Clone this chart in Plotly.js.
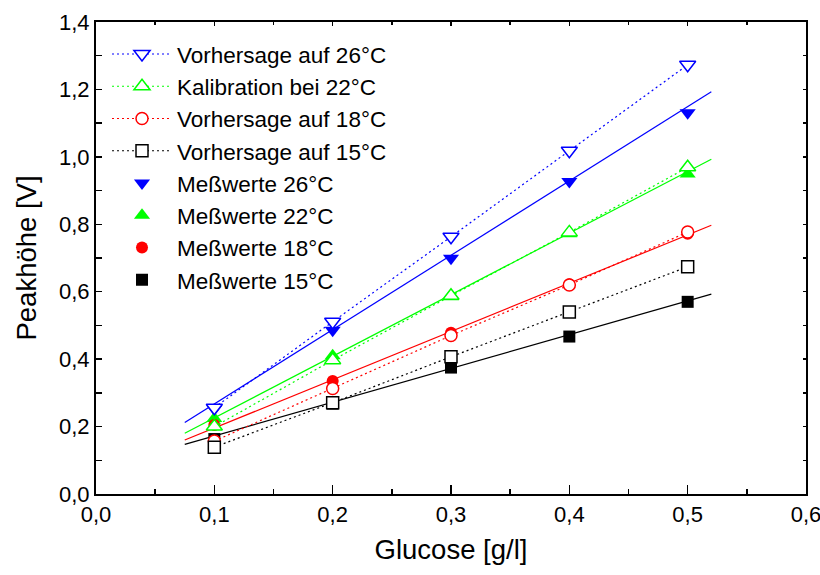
<!DOCTYPE html>
<html><head><meta charset="utf-8">
<script src="https://cdn.plot.ly/plotly-3.0.1.min.js"></script>
<style>html,body{margin:0;padding:0;background:#fff}#chart{width:820px;height:575px}</style>
</head><body><div id="chart"></div>
<script>
const glucose = [0.1, 0.2, 0.3, 0.4, 0.5];
const pred26 = [0.256, 0.511, 0.763, 1.018, 1.273];
const cal22  = [0.200, 0.397, 0.588, 0.776, 0.969];
const pred18 = [0.157, 0.313, 0.470, 0.620, 0.777];
const pred15 = [0.139, 0.271, 0.407, 0.540, 0.674];
const meas26 = [0.252, 0.486, 0.699, 0.927, 1.131];
const meas22 = [0.224, 0.410, 0.585, 0.772, 0.949];
const meas18 = [0.205, 0.335, 0.478, 0.622, 0.772];
const meas15 = [0.163, 0.268, 0.375, 0.467, 0.570];
const fitX   = [0.075, 0.52];
const fit26  = [0.212, 1.193];
const fit22  = [0.180, 0.993];
const fit18  = [0.160, 0.797];
const fit15  = [0.147, 0.593];
const xTicks = [0, 0.1, 0.2, 0.3, 0.4, 0.5, 0.6];
const yTicks = [0, 0.2, 0.4, 0.6, 0.8, 1.0, 1.2, 1.4];

const BLUE='#0000ff', GREEN='#00ff00', RED='#ff0000', BLACK='#000000';
const dotted = '2px,3px';
const traces = [];
[[fit26,BLUE],[fit22,GREEN],[fit18,RED],[fit15,BLACK]].forEach(([y,c])=>{
  traces.push({x:fitX,y:y,mode:'lines',line:{color:c,width:1.2},showlegend:false,hoverinfo:'skip'});
});
const filled = [
  ['Meßwerte 26°C', meas26, BLUE, 'triangle-down', 14, 5],
  ['Meßwerte 22°C', meas22, GREEN, 'triangle-up', 14, 6],
  ['Meßwerte 18°C', meas18, RED, 'circle', 12, 7],
  ['Meßwerte 15°C', meas15, BLACK, 'square', 12, 8]
];
filled.forEach(([n,y,c,s,sz,r])=>{
  traces.push({x:glucose,y:y,name:n,mode:'markers',legendrank:r,
    marker:{symbol:s,size:sz,color:c,line:{width:0}}});
});
const open = [
  ['Vorhersage auf 26°C', pred26, BLUE, 'triangle-down', 14, 1],
  ['Kalibration bei 22°C', cal22, GREEN, 'triangle-up', 14, 2],
  ['Vorhersage auf 18°C', pred18, RED, 'circle', 12, 3],
  ['Vorhersage auf 15°C', pred15, BLACK, 'square', 12, 4]
];
open.forEach(([n,y,c,s,sz,r])=>{
  traces.push({x:glucose,y:y,name:n,mode:'lines+markers',legendrank:r,
    line:{color:c,width:1.2,dash:dotted},
    marker:{symbol:s,size:sz,color:'#ffffff',line:{color:c,width:1.5}}});
});
// empty trace that makes the mirrored top/right axes render
traces.push({x:[null], y:[null], xaxis:'x2', yaxis:'y2', mode:'markers', showlegend:false, hoverinfo:'skip'});

const font = {family:'"Liberation Sans", Arial, sans-serif', color:'#000'};
const tickStyle = {showgrid:false, zeroline:false, showline:true, linecolor:'#000', linewidth:2,
  ticks:'inside', tickwidth:1.5, tickcolor:'#000'};
const layout = {
  width:820, height:575,
  margin:{l:96, r:14, t:22, b:81},
  paper_bgcolor:'#fff', plot_bgcolor:'#fff',
  separators:',.',
  font:font,
  showlegend:true,
  legend:{x:0.0155, y:0.977, xanchor:'left', yanchor:'top', bgcolor:'rgba(0,0,0,0)',
    borderwidth:0, font:{family:font.family, size:22.5, color:'#000'}, itemwidth:60},
  xaxis:Object.assign({}, tickStyle, {range:[0,0.6], tickvals:xTicks, tickformat:'.1f',
    ticklen:9, ticklabeloverflow:'allow', mirror:true,
    minor:{dtick:0.05, ticks:'inside', ticklen:5, tickwidth:1.5, tickcolor:'#000'},
    tickfont:{family:font.family, size:22, color:'#000'},
    title:{text:'Glucose [g/l]', font:{family:font.family, size:27.5, color:'#000'}, standoff:13}}),
  yaxis:Object.assign({}, tickStyle, {range:[0,1.4], tickvals:yTicks, tickformat:'.1f',
    ticklen:6, ticklabeloverflow:'allow', mirror:true,
    minor:{dtick:0.1, ticks:'inside', ticklen:6, tickwidth:1.5, tickcolor:'#000'},
    tickfont:{family:font.family, size:22, color:'#000'},
    title:{text:'Peakhöhe [V]', font:{family:font.family, size:27.5, color:'#000'}, standoff:14}}),
  xaxis2:Object.assign({}, tickStyle, {overlaying:'x', side:'top', anchor:'y2', range:[0,0.6],
    tickvals:xTicks, ticklen:4, showticklabels:false,
    minor:{dtick:0.05, ticks:'inside', ticklen:3, tickwidth:1.5, tickcolor:'#000'}}),
  yaxis2:Object.assign({}, tickStyle, {overlaying:'y', side:'right', anchor:'x2', range:[0,1.4],
    tickvals:yTicks, ticklen:3, showticklabels:false,
    minor:{dtick:0.1, ticks:'inside', ticklen:3, tickwidth:1.5, tickcolor:'#000'}})
};
Plotly.newPlot('chart', traces, layout, {displayModeBar:false, staticPlot:true});
</script>
</body></html>
